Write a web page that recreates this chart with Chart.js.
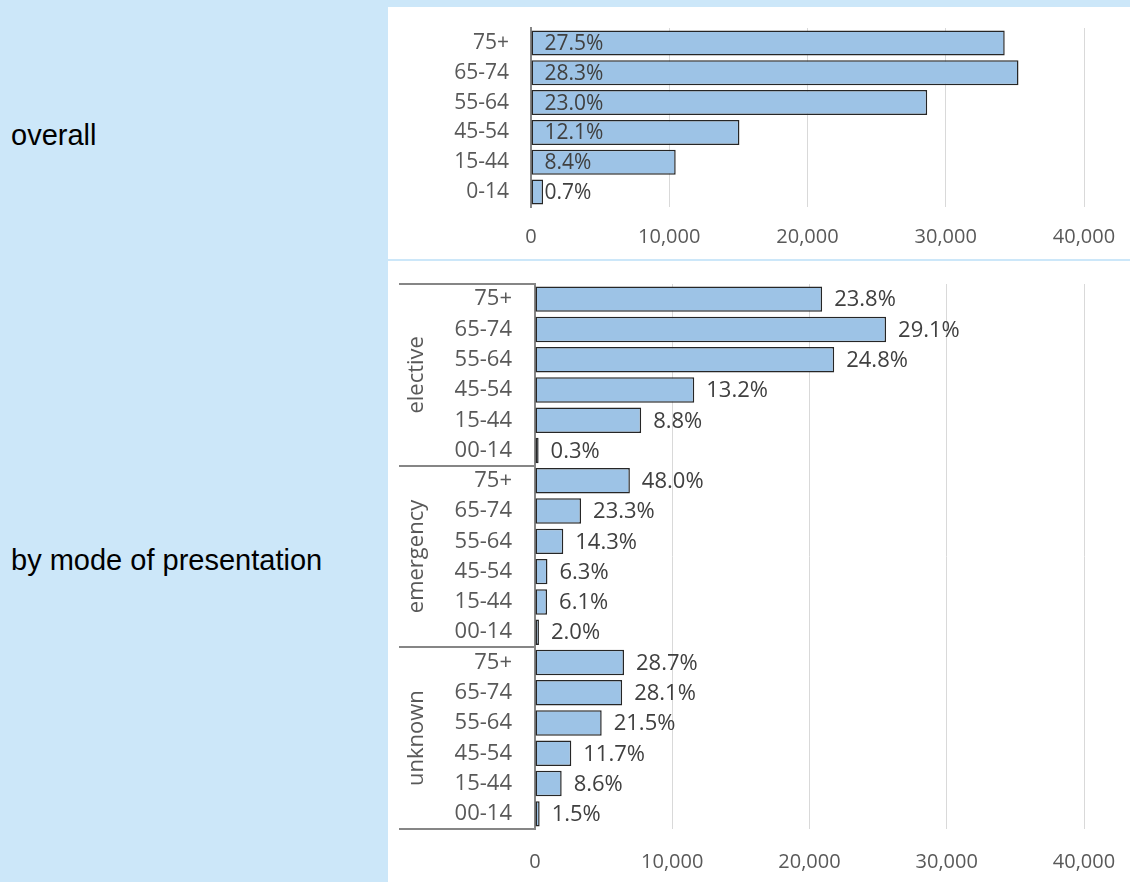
<!DOCTYPE html>
<html lang="en">
<head>
<meta charset="UTF-8">
<title>Admissions by age band</title>
<script src="https://cdn.jsdelivr.net/npm/chart.js@4.4.0/dist/chart.umd.min.js"></script>
<style>
    * {
        margin: 0;
        padding: 0;
        box-sizing: border-box;
    }

    body {
        width: 1130px;
        height: 882px;
        background: #cce7f9;
        position: relative;
        overflow: hidden;
        font-family: 'Liberation Sans', Arial, sans-serif;
    }

    .side-label {
        position: absolute;
        left: 11px;
        font-size: 29px;
        line-height: 29px;
        color: #000;
        white-space: nowrap;
    }

    .panel {
        position: absolute;
        left: 388px;
        width: 742px;
        background: #fff;
    }

    #topPanel { top: 7px; height: 252px; }
    #bottomPanel { top: 261px; height: 621px; }
</style>
</head>
<body>
    <div class="side-label" style="top:121px">overall</div>
    <div class="side-label" style="top:546px">by mode of presentation</div>

    <div class="panel" id="topPanel"><canvas id="overallChart" width="742" height="252"></canvas></div>
    <div class="panel" id="bottomPanel"><canvas id="modeChart" width="742" height="621"></canvas></div>

<script>
    const overallAges = ['75+', '65-74', '55-64', '45-54', '15-44', '0-14'];
    const modeAges = ['75+', '65-74', '55-64', '45-54', '15-44', '00-14'];
    const modes = ['elective', 'emergency', 'unknown'];

    // share of admissions in each age band (%)
    const overallPct = [27.5, 28.3, 23.0, 12.1, 8.4, 0.7];
    const electivePct = [23.8, 29.1, 24.8, 13.2, 8.8, 0.3];
    const emergencyPct = [48.0, 23.3, 14.3, 6.3, 6.1, 2.0];
    const unknownPct = [28.7, 28.1, 21.5, 11.7, 8.6, 1.5];

    // admissions in each group, turns the shares back into counts
    const overallTotal = 124600;
    const electiveTotal = 87900;
    const emergencyTotal = 14400;
    const unknownTotal = 22600;

    const xTicks = [0, 10000, 20000, 30000, 40000];

    const barFill = '#9dc3e6';
    const barEdge = '#262626';
    const tickColor = '#595959';

    Chart.defaults.font.family = "'Open Sans', sans-serif";

    function counts(pct, total) {
        return pct.map(p => p / 100 * total);
    }

    // percentage next to each bar, either at the base or past the end
    const pctLabels = {
        id: 'pctLabels',
        afterDatasetsDraw(chart, args, opts) {
            const ctx = chart.ctx;
            const pcts = chart.data.datasets[0].pct;
            ctx.save();
            ctx.font = opts.size + "px 'Open Sans'";
            ctx.fillStyle = '#404040';
            ctx.textAlign = 'left';
            ctx.textBaseline = 'middle';
            chart.getDatasetMeta(0).data.forEach((bar, i) => {
                const x = opts.inside ? bar.base + 13 : bar.x + 12;
                ctx.fillText(pcts[i].toFixed(1) + '%', x, bar.y + 1);
            });
            ctx.restore();
        }
    };

    // bracket lines and rotated names for the presentation groups
    const modeGroups = {
        id: 'modeGroups',
        afterDraw(chart) {
            const { ctx, chartArea } = chart;
            const y = chart.scales.y;
            const n = modeAges.length;
            const band = y.getPixelForValue(1) - y.getPixelForValue(0);
            ctx.save();
            ctx.strokeStyle = '#868686';
            ctx.lineWidth = 2;
            for (let g = 0; g <= modes.length; g++) {
                const py = Math.round(y.getPixelForValue(g * n) - band / 2);
                ctx.beginPath();
                ctx.moveTo(11, py);
                ctx.lineTo(chartArea.left, py);
                ctx.stroke();
            }
            ctx.font = "22px 'Open Sans'";
            ctx.fillStyle = tickColor;
            ctx.textAlign = 'center';
            ctx.textBaseline = 'middle';
            modes.forEach((m, g) => {
                const mid = (y.getPixelForValue(g * n) + y.getPixelForValue(g * n + n - 1)) / 2;
                ctx.save();
                ctx.translate(29, mid);
                ctx.rotate(-Math.PI / 2);
                ctx.fillText(m, 0, 0);
                ctx.restore();
            });
            ctx.restore();
        }
    };

    function barOptions(cfg) {
        return {
            indexAxis: 'y',
            responsive: false,
            animation: false,
            layout: { padding: { top: cfg.top, right: 46, left: 0, bottom: 0 } },
            plugins: {
                legend: { display: false },
                tooltip: { enabled: false },
                pctLabels: { inside: cfg.inside, size: cfg.labelSize }
            },
            scales: {
                x: {
                    min: xTicks[0],
                    max: xTicks[xTicks.length - 1],
                    ticks: {
                        stepSize: xTicks[1] - xTicks[0],
                        callback: v => v.toLocaleString('en-US'),
                        color: tickColor,
                        font: { size: 20 },
                        padding: cfg.xPad,
                        maxRotation: 0
                    },
                    grid: { color: '#d9d9d9', drawTicks: false },
                    border: { display: false },
                    afterFit: s => {
                        s.height = cfg.xHeight;
                        s.paddingLeft = 0;
                        s.paddingRight = 0;
                    }
                },
                y: {
                    ticks: { color: tickColor, font: { size: cfg.tickSize }, padding: cfg.yPad, autoSkip: false },
                    grid: { display: false, drawTicks: false },
                    border: { color: '#868686', width: 2 },
                    afterFit: s => {
                        s.width = cfg.yWidth;
                        s.paddingTop = 0;
                        s.paddingBottom = 0;
                    }
                }
            }
        };
    }

    function barDataset(values, pct) {
        return {
            data: values,
            pct: pct,
            backgroundColor: barFill,
            borderColor: barEdge,
            borderWidth: 1.5,
            borderSkipped: false,
            barPercentage: 0.84,
            categoryPercentage: 1
        };
    }

    new Chart(document.getElementById('overallChart'), {
        type: 'bar',
        data: {
            labels: overallAges,
            datasets: [barDataset(counts(overallPct, overallTotal), overallPct)]
        },
        options: barOptions({
            yWidth: 143, xHeight: 52, top: 21, yPad: 22, xPad: 18,
            tickSize: 21, labelSize: 21, inside: true
        }),
        plugins: [pctLabels]
    });

    const modePct = electivePct.concat(emergencyPct, unknownPct);
    const modeValues = counts(electivePct, electiveTotal).concat(
        counts(emergencyPct, emergencyTotal),
        counts(unknownPct, unknownTotal)
    );

    new Chart(document.getElementById('modeChart'), {
        type: 'bar',
        data: {
            labels: modes.flatMap(() => modeAges),
            datasets: [barDataset(modeValues, modePct)]
        },
        options: barOptions({
            yWidth: 147, xHeight: 53, top: 23, yPad: 23, xPad: 21,
            tickSize: 22, labelSize: 22, inside: false
        }),
        plugins: [pctLabels, modeGroups]
    });
</script>
</body>
</html>
